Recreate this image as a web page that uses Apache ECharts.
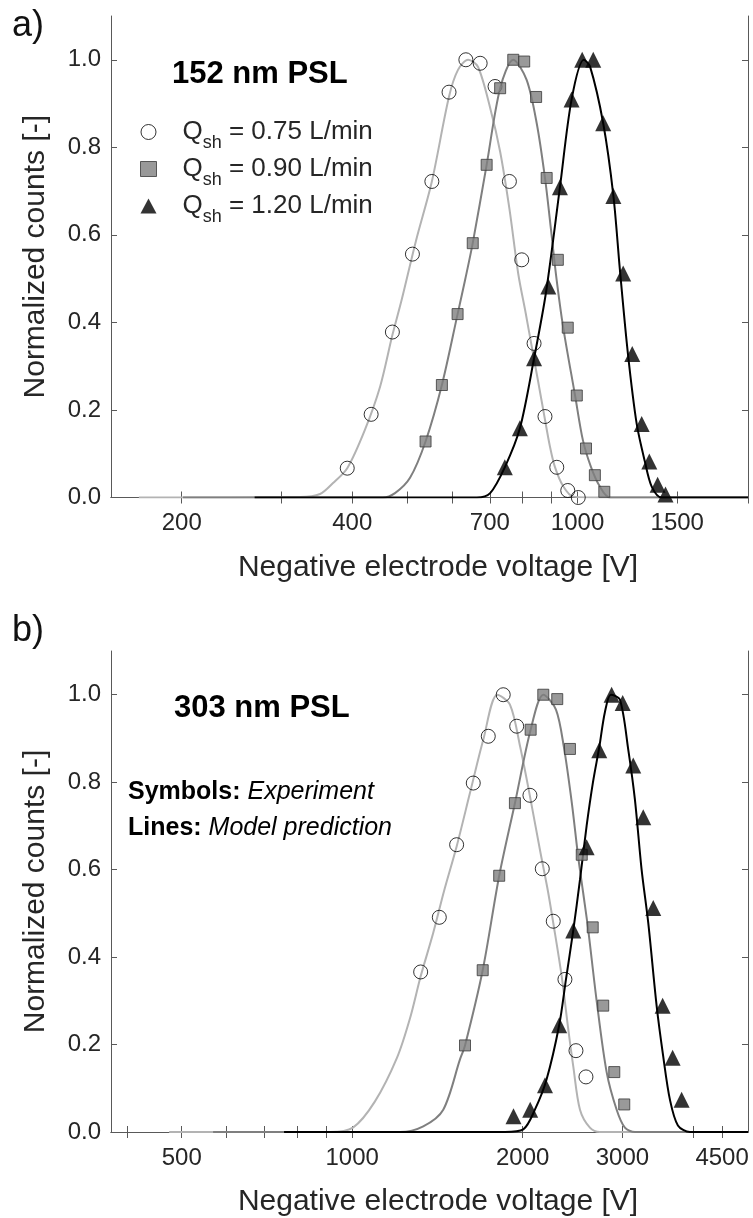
<!DOCTYPE html>
<html>
<head>
<meta charset="utf-8">
<title>Normalized counts vs negative electrode voltage</title>
<script src="https://cdn.jsdelivr.net/npm/echarts@6/dist/echarts.min.js"></script>
<style>
  html, body { margin: 0; padding: 0; background: #fff; }
  #main { width: 753px; height: 1218px; }
</style>
</head>
<body>
<div id="main"></div>
<script>
// ---- data ----
const sheathFlows = ['0.75', '0.90', '1.20']
const yTicks = [0, 0.2, 0.4, 0.6, 0.8, 1.0]

// a) 152 nm PSL
const aTicks = [200, 300, 400, 500, 600, 700, 800, 900, 1000, 1500, 2000]
const aLabels = [200, 400, 700, 1000, 1500]
const aCircV = [392, 432, 471, 511, 553, 593, 635, 673, 715, 758, 797, 838, 876, 919, 961, 1003]
const aCircY = [0.067, 0.19, 0.378, 0.556, 0.722, 0.926, 1.0, 0.992, 0.939, 0.722, 0.543, 0.352, 0.185, 0.069, 0.016, 0.0]
const aSqV = [539, 576, 614, 653, 691, 730, 770, 805, 845, 882, 923, 961, 997, 1035, 1073, 1115]
const aSqY = [0.128, 0.257, 0.419, 0.581, 0.76, 0.935, 1.0, 0.996, 0.915, 0.73, 0.543, 0.388, 0.233, 0.112, 0.051, 0.013]
const aTriV = [744, 791, 838, 888, 931, 976, 1019, 1066, 1110, 1157, 1204, 1249, 1298, 1339, 1385, 1430]
const aTriY = [0.069, 0.158, 0.318, 0.482, 0.709, 0.909, 1.0, 1.0, 0.855, 0.689, 0.512, 0.328, 0.168, 0.082, 0.029, 0.007]
const aFitLightV = [168, 324, 351, 370, 392, 421, 448, 471, 489, 519, 553, 593, 615, 641, 667, 701, 730, 758, 786, 810, 830, 852, 874, 894, 912, 944, 983, 1100, 2000]
const aFitLightY = [0, 0.001, 0.008, 0.033, 0.067, 0.154, 0.253, 0.371, 0.451, 0.589, 0.722, 0.916, 0.977, 1.0, 0.984, 0.89, 0.79, 0.66, 0.51, 0.421, 0.345, 0.265, 0.185, 0.116, 0.07, 0.025, 0.002, 0, 0]
const aFitMidV = [201, 453, 476, 506, 539, 576, 614, 633, 653, 691, 730, 770, 813, 847, 876, 898, 916, 943, 990, 1022, 1056, 1095, 1141, 2000]
const aFitMidY = [0, 0, 0.01, 0.045, 0.128, 0.257, 0.419, 0.497, 0.581, 0.76, 0.935, 1.0, 0.954, 0.855, 0.73, 0.61, 0.51, 0.39, 0.233, 0.131, 0.07, 0.025, 0, 0]
const aFitDarkV = [269, 664, 701, 744, 791, 838, 880, 931, 976, 1026, 1052, 1110, 1157, 1188, 1227, 1272, 1315, 1352, 1408, 2000]
const aFitDarkY = [0, 0, 0.01, 0.069, 0.158, 0.318, 0.47, 0.709, 0.909, 1.0, 0.985, 0.855, 0.689, 0.52, 0.33, 0.168, 0.082, 0.025, 0, 0]

// b) 303 nm PSL
const bTicks = [400, 500, 600, 700, 800, 900, 1000, 2000, 3000, 4000, 4500]
const bLabels = [500, 1000, 2000, 3000, 4500]
const bCircV = [1321, 1425, 1529, 1636, 1739, 1848, 1952, 2060, 2166, 2265, 2375, 2484, 2587]
const bCircY = [0.366, 0.491, 0.657, 0.798, 0.905, 1.0, 0.928, 0.77, 0.602, 0.482, 0.349, 0.186, 0.126]
const bSqV = [1582, 1700, 1818, 1938, 2066, 2175, 2302, 2424, 2543, 2659, 2775, 2903, 3023]
const bSqY = [0.198, 0.37, 0.586, 0.752, 0.92, 1.0, 0.99, 0.876, 0.634, 0.468, 0.289, 0.137, 0.063]
const bTriV = [1927, 2062, 2190, 2320, 2457, 2594, 2731, 2872, 3004, 3136, 3266, 3401, 3533, 3680, 3817]
const bTriY = [0.036, 0.051, 0.107, 0.244, 0.461, 0.651, 0.873, 1.0, 0.981, 0.838, 0.72, 0.512, 0.289, 0.17, 0.074]
const bFitLightV = [475, 913, 1003, 1097, 1200, 1265, 1321, 1390, 1452, 1529, 1614, 1704, 1804, 1900, 1979, 2060, 2145, 2217, 2265, 2344, 2408, 2457, 2525, 2629, 2738, 5000]
const bFitLightY = [0, 0, 0.01, 0.07, 0.17, 0.26, 0.356, 0.455, 0.55, 0.653, 0.775, 0.897, 1.0, 0.977, 0.882, 0.768, 0.646, 0.55, 0.478, 0.356, 0.234, 0.15, 0.051, 0.01, 0, 0]
const bFitMidV = [568, 1214, 1335, 1448, 1550, 1582, 1700, 1818, 1938, 2066, 2175, 2290, 2365, 2444, 2504, 2556, 2608, 2702, 2814, 2931, 3031, 3157, 5000]
const bFitMidY = [0, 0, 0.013, 0.051, 0.166, 0.198, 0.37, 0.586, 0.752, 0.92, 1.0, 0.966, 0.88, 0.75, 0.634, 0.55, 0.468, 0.30, 0.137, 0.051, 0.01, 0, 0]
const bFitDarkV = [758, 1861, 2005, 2102, 2204, 2320, 2385, 2457, 2525, 2594, 2662, 2731, 2794, 2863, 2970, 3073, 3157, 3244, 3333, 3448, 3542, 3640, 3760, 3948, 5000]
const bFitDarkY = [0, 0, 0.006, 0.051, 0.12, 0.244, 0.349, 0.461, 0.577, 0.70, 0.80, 0.88, 0.96, 1.0, 0.989, 0.874, 0.76, 0.6, 0.478, 0.289, 0.173, 0.074, 0.015, 0, 0]

// ---- styling ----
const FONT = '"Liberation Sans", Arial, Helvetica, sans-serif'
const TXT = '#262626'
const FRAME = '#595959'
const LIGHT = '#b3b3b3'
const MID = '#7f7f7f'
const DARK = '#000000'

const zip = (xs, ys) => xs.map((x, i) => [x, ys[i]])

const xAxisFor = (grid, min, max, ticks, labels, top) => ({
  type: 'log',
  logBase: 10,
  gridIndex: grid,
  position: top ? 'top' : 'bottom',
  min,
  max,
  name: top ? '' : 'Negative electrode voltage [V]',
  nameLocation: 'middle',
  nameGap: 55,
  nameTextStyle: { fontSize: 30, color: TXT, fontFamily: FONT, padding: [0, 0, 0, 17] },
  axisLine: { show: true, lineStyle: { color: FRAME, width: 1 } },
  axisTick: { show: true, inside: true, length: 6, customValues: ticks, lineStyle: { color: FRAME } },
  minorTick: { show: false },
  axisLabel: {
    show: !top,
    customValues: labels,
    fontSize: 24,
    color: TXT,
    fontFamily: FONT,
    margin: 14,
    formatter: v => String(Math.round(v))
  },
  splitLine: { show: false }
})

const yAxisFor = (grid, right) => ({
  type: 'value',
  gridIndex: grid,
  position: right ? 'right' : 'left',
  min: 0,
  max: 1.1,
  name: right ? '' : 'Normalized counts [-]',
  nameLocation: 'middle',
  nameGap: 60,
  nameTextStyle: { fontSize: 30, color: TXT, fontFamily: FONT },
  axisLine: { show: true, lineStyle: { color: FRAME, width: 1 } },
  axisTick: { show: true, inside: true, length: 6, customValues: yTicks, lineStyle: { color: FRAME } },
  axisLabel: {
    show: !right,
    customValues: yTicks,
    fontSize: 24,
    color: TXT,
    fontFamily: FONT,
    margin: 10,
    formatter: v => v.toFixed(1)
  },
  splitLine: { show: false }
})

const fitLine = (name, axis, xs, ys, color) => ({
  name,
  type: 'line',
  xAxisIndex: axis,
  yAxisIndex: axis,
  data: zip(xs, ys),
  showSymbol: false,
  smooth: 0.3,
  lineStyle: { color, width: 2 },
  itemStyle: { color },
  z: 2,
  silent: true
})

const points = (name, axis, xs, ys, symbol, size, itemStyle) => ({
  name,
  type: 'scatter',
  xAxisIndex: axis,
  yAxisIndex: axis,
  data: zip(xs, ys),
  symbol,
  symbolSize: size,
  itemStyle,
  z: 3
})

const circleStyle = { color: 'rgba(255,255,255,0)', borderColor: '#000', borderWidth: 1 }
const squareStyle = { color: '#808080', borderColor: '#3a3a3a', borderWidth: 1 }
const triStyle = { color: '#000', borderColor: '#000', borderWidth: 0 }

const chart = echarts.init(document.getElementById('main'), null, { renderer: 'canvas' })

const option = {
  backgroundColor: '#fff',
  animation: false,
  textStyle: { fontFamily: FONT },
  grid: [
    { left: 111, top: 16, width: 637, height: 481.5 },
    { left: 111, top: 651, width: 637, height: 481.5 }
  ],
  xAxis: [
    xAxisFor(0, 150, 2000, aTicks, aLabels, false),
    xAxisFor(0, 150, 2000, aTicks, aLabels, true),
    xAxisFor(1, 375, 5000, bTicks, bLabels, false),
    xAxisFor(1, 375, 5000, bTicks, bLabels, true)
  ],
  yAxis: [
    yAxisFor(0, false),
    yAxisFor(0, true),
    yAxisFor(1, false),
    yAxisFor(1, true)
  ],
  legend: {
    data: [
      { name: sheathFlows[0], itemStyle: circleStyle },
      { name: sheathFlows[1], itemStyle: squareStyle },
      { name: sheathFlows[2], itemStyle: triStyle }
    ],
    orient: 'vertical',
    left: 140,
    top: 119,
    padding: 0,
    itemGap: 4,
    itemWidth: 16,
    itemHeight: 15,
    selectedMode: false,
    formatter: n => '{gap|}Q{sub|sh} = ' + n + ' L/min',
    textStyle: {
      fontSize: 26,
      color: TXT,
      fontFamily: FONT,
      rich: {
        gap: { width: 21 },
        sub: { fontSize: 18, color: TXT, fontFamily: FONT, padding: [22, 0, 0, 0] }
      }
    }
  },
  graphic: [
    { type: 'text', left: 12, top: 8, style: { text: 'a)', fontSize: 36, fill: '#111', fontFamily: FONT } },
    { type: 'text', left: 12, top: 613, style: { text: 'b)', fontSize: 36, fill: '#111', fontFamily: FONT } },
    { type: 'text', left: 172, top: 59, style: { text: '152 nm PSL', fontSize: 31, fontWeight: 'bold', fill: '#000', fontFamily: FONT } },
    { type: 'text', left: 174, top: 693, style: { text: '303 nm PSL', fontSize: 31, fontWeight: 'bold', fill: '#000', fontFamily: FONT } },
    {
      type: 'text', left: 128, top: 774,
      style: {
        text: '{b|Symbols:} {i|Experiment}\n{b|Lines:} {i|Model prediction}',
        fill: '#000',
        fontFamily: FONT,
        fontSize: 25,
        lineHeight: 36,
        rich: {
          b: { fontSize: 25, fontWeight: 'bold', fontFamily: FONT, fill: '#000', lineHeight: 36 },
          i: { fontSize: 25, fontStyle: 'italic', fontFamily: FONT, fill: '#000', lineHeight: 36 }
        }
      }
    }
  ],
  series: [
    fitLine('model a 0.75', 0, aFitLightV, aFitLightY, LIGHT),
    fitLine('model a 0.90', 0, aFitMidV, aFitMidY, MID),
    fitLine('model a 1.20', 0, aFitDarkV, aFitDarkY, DARK),
    points(sheathFlows[0], 0, aCircV, aCircY, 'circle', 14, circleStyle),
    points(sheathFlows[1], 0, aSqV, aSqY, 'rect', 11, squareStyle),
    points(sheathFlows[2], 0, aTriV, aTriY, 'triangle', 16, triStyle),
    fitLine('model b 0.75', 2, bFitLightV, bFitLightY, LIGHT),
    fitLine('model b 0.90', 2, bFitMidV, bFitMidY, MID),
    fitLine('model b 1.20', 2, bFitDarkV, bFitDarkY, DARK),
    points('b ' + sheathFlows[0], 2, bCircV, bCircY, 'circle', 14, circleStyle),
    points('b ' + sheathFlows[1], 2, bSqV, bSqY, 'rect', 11, squareStyle),
    points('b ' + sheathFlows[2], 2, bTriV, bTriY, 'triangle', 16, triStyle)
  ]
}

chart.setOption(option)
</script>
</body>
</html>
